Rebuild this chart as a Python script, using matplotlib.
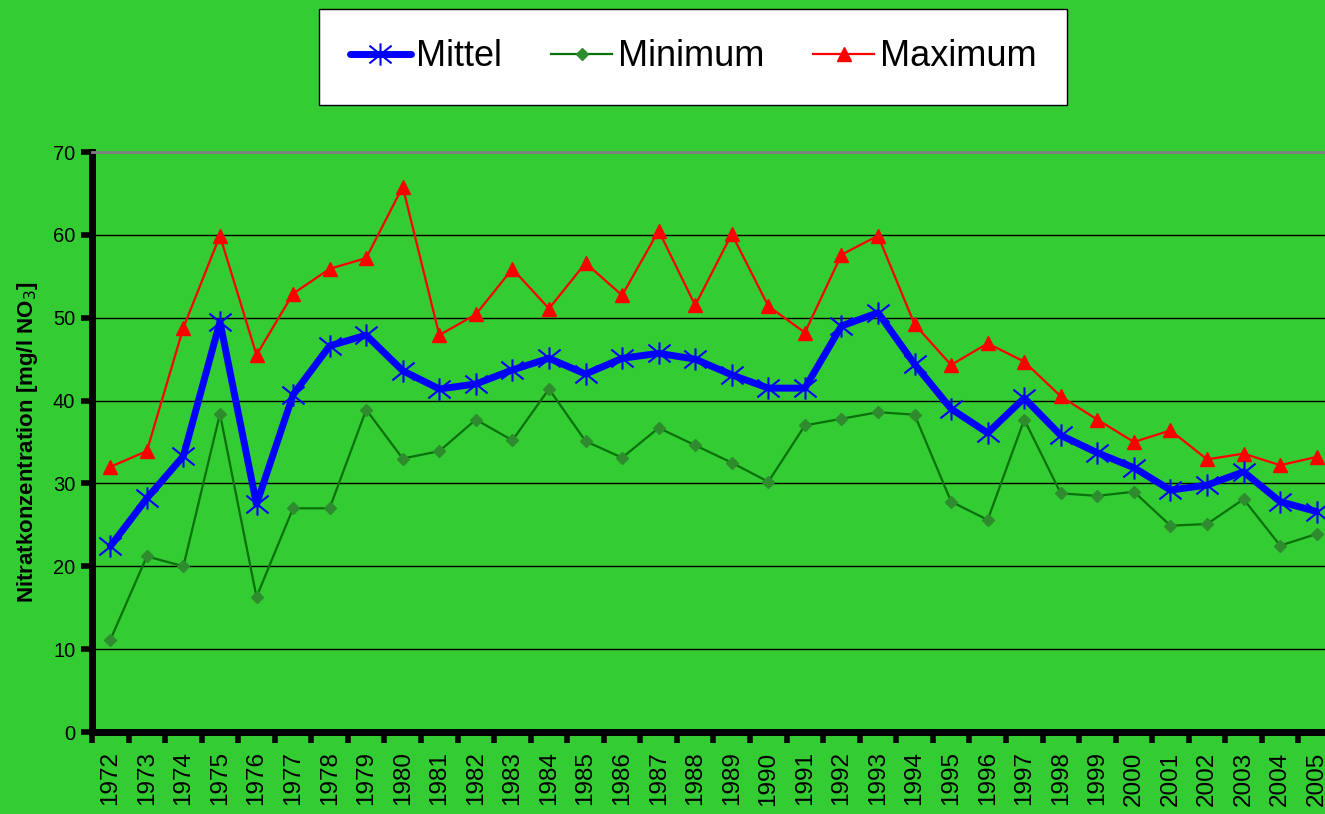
import matplotlib
matplotlib.use("Agg")
import matplotlib.pyplot as plt
from matplotlib.path import Path
from matplotlib.ticker import FixedLocator

# Nitrate concentration per year
years = [str(y) for y in range(1972, 2006)]
mittel = [22.4, 28.2, 33.3, 49.5, 27.5, 40.7, 46.6, 47.9, 43.6, 41.4,
          42.0, 43.7, 45.1, 43.2, 45.1, 45.7, 45.0, 43.1, 41.5, 41.5,
          49.0, 50.6, 44.4, 39.0, 36.1, 40.3, 35.8, 33.7, 31.9, 29.2,
          29.8, 31.4, 27.8, 26.6]
minimum = [11.1, 21.2, 20.0, 38.4, 16.3, 27.0, 27.0, 38.9, 33.0, 33.9,
           37.7, 35.2, 41.4, 35.1, 33.1, 36.7, 34.6, 32.5, 30.2, 37.0,
           37.8, 38.6, 38.3, 27.8, 25.6, 37.7, 28.8, 28.5, 29.0, 24.9,
           25.1, 28.1, 22.5, 23.9]
maximum = [32.0, 33.9, 48.8, 59.9, 45.5, 52.9, 55.9, 57.2, 65.8, 47.9,
           50.4, 55.9, 51.1, 56.6, 52.7, 60.5, 51.5, 60.1, 51.4, 48.2,
           57.6, 59.9, 49.2, 44.3, 46.9, 44.7, 40.5, 37.7, 35.0, 36.4,
           32.9, 33.6, 32.2, 33.2]

plt.rcParams['font.family'] = ['Liberation Sans', 'DejaVu Sans']

bg = '#33cc33'
W, H = 1325, 814

# Excel-style asterisk marker: vertical bar plus an X
star = Path([(0, -1), (0, 1), (-1, -0.8), (1, 0.8), (-1, 0.8), (1, -0.8)],
            [Path.MOVETO, Path.LINETO] * 3)

fig = plt.figure(figsize=(W / 100, H / 100), dpi=100, facecolor=bg)
ax = fig.add_axes([92 / W, 82 / H, 1243 / W, 580 / H], facecolor=bg)

x = list(range(len(years)))
l_mit, = ax.plot(x, mittel, color='#0000ff', lw=5, marker=star, ms=16,
                 mew=1.5, mec='#0000ff', solid_capstyle='round',
                 solid_joinstyle='round', zorder=4, label='Mittel')
l_min, = ax.plot(x, minimum, color='#0a700a', lw=1.6, marker='D', ms=6.5,
                 mfc='#2e8b2e', mec='#2e8b2e', zorder=3, label='Minimum')
l_max, = ax.plot(x, maximum, color='#ff0000', lw=1.6, marker='^', ms=10,
                 mfc='#ff0000', mec='#ff0000', zorder=3, label='Maximum')

ax.set_xlim(-0.5, len(years) - 0.5)
ax.set_ylim(0, 70)

# y axis
ax.set_yticks(range(0, 71, 10))
ax.tick_params(axis='y', direction='out', length=8, width=4, labelsize=14.5,
               pad=4, color='black')
ax.yaxis.grid(True, color='black', lw=1)
ax.set_axisbelow(True)
ax.set_ylabel('Nitratkonzentration [mg/l NO$_3$]', fontsize=16,
              fontweight='bold', labelpad=9)

# x axis: tick marks between categories, labels at centres
ax.xaxis.set_major_locator(FixedLocator([i - 0.5 for i in range(len(years) + 1)]))
ax.xaxis.set_minor_locator(FixedLocator(x))
ax.set_xticklabels([])
ax.set_xticklabels(years, minor=True, rotation=90, fontsize=17.5)
ax.tick_params(axis='x', which='major', direction='out', length=8, width=4)
ax.tick_params(axis='x', which='minor', length=0, pad=14)

ax.spines['left'].set_linewidth(5)
ax.spines['bottom'].set_linewidth(5)
ax.spines['top'].set_color('#808080')
ax.spines['top'].set_linewidth(2)
ax.spines['right'].set_visible(False)

leg = fig.legend(handles=[l_mit, l_min, l_max], loc='center',
                 bbox_to_anchor=(693 / W, 1 - 57 / H), ncol=3, fontsize=26,
                 frameon=True, fancybox=False, edgecolor='black',
                 facecolor='white', framealpha=1, handlelength=1.7,
                 handletextpad=0.15, columnspacing=1.35, borderpad=0.85,
                 numpoints=1)
leg.get_frame().set_linewidth(1)

fig.savefig('out.png', dpi=100, facecolor=bg)
